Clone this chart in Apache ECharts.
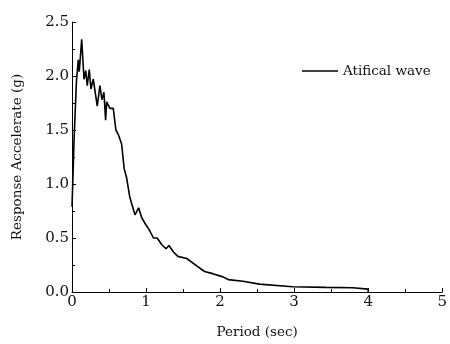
<!DOCTYPE html>
<html>
<head>
<meta charset="utf-8">
<script src="https://cdn.jsdelivr.net/npm/echarts@6/dist/echarts.min.js"></script>
<style>html,body{margin:0;padding:0;background:#fff}#c{width:450px;height:344px}</style>
</head>
<body>
<div id="c"></div>
<script>
const seriesName = 'Atifical wave';
const periods = [0, 0.03, 0.06, 0.085, 0.098, 0.131, 0.162, 0.185, 0.206, 0.233, 0.256, 0.287, 0.341, 0.377, 0.404, 0.431, 0.454, 0.468, 0.512, 0.557, 0.593, 0.624, 0.67, 0.705, 0.737, 0.78, 0.85, 0.90, 0.94, 1.0, 1.04, 1.10, 1.15, 1.21, 1.27, 1.31, 1.37, 1.43, 1.55, 1.68, 1.79, 1.90, 2.04, 2.11, 2.31, 2.53, 2.98, 3.43, 3.79, 4.0, 4.0];
const accels  = [0.79, 1.45, 1.95, 2.15, 2.04, 2.34, 1.97, 2.05, 1.91, 2.06, 1.88, 1.97, 1.72, 1.91, 1.78, 1.85, 1.59, 1.76, 1.70, 1.70, 1.50, 1.46, 1.37, 1.14, 1.06, 0.88, 0.715, 0.78, 0.69, 0.62, 0.58, 0.50, 0.50, 0.44, 0.40, 0.43, 0.37, 0.33, 0.31, 0.245, 0.19, 0.17, 0.14, 0.115, 0.10, 0.073, 0.048, 0.043, 0.04, 0.027, 0.0];
const xTicks = [0, 1, 2, 3, 4, 5];
const yTicks = [0, 0.5, 1, 1.5, 2, 2.5];

const font = 'DejaVu Serif';
const chart = echarts.init(document.getElementById('c'), null, {renderer: 'canvas'});
chart.setOption({
  animation: false,
  backgroundColor: '#fff',
  grid: {left: 72, right: 7, top: 22, bottom: 47, containLabel: false},
  legend: {
    show: true, left: 297, top: 59,
    data: [{name: seriesName, icon: 'rect'}],
    itemWidth: 36, itemHeight: 1.6, itemGap: 5,
    textStyle: {fontFamily: font, fontSize: 13.5, color: '#111'}
  },
  xAxis: {
    type: 'value', min: xTicks[0], max: xTicks[xTicks.length - 1], interval: 1,
    name: 'Period (sec)', nameLocation: 'middle', nameGap: 33,
    nameTextStyle: {fontFamily: font, fontSize: 13.5, color: '#111'},
    axisLine: {show: true, lineStyle: {color: '#000', width: 1}},
    axisTick: {show: true, inside: true, length: 4, lineStyle: {color: '#000'}},
    minorTick: {show: true, splitNumber: 2, length: 3, lineStyle: {color: '#000'}},
    axisLabel: {fontFamily: font, fontSize: 15, color: '#111', margin: 3},
    splitLine: {show: false}
  },
  yAxis: {
    type: 'value', min: yTicks[0], max: yTicks[yTicks.length - 1], interval: 0.5,
    name: 'Response Accelerate (g)', nameLocation: 'middle', nameGap: 48,
    nameTextStyle: {fontFamily: font, fontSize: 13.5, color: '#111'},
    axisLine: {show: true, lineStyle: {color: '#000', width: 1}},
    axisTick: {show: true, inside: true, length: 4, lineStyle: {color: '#000'}},
    minorTick: {show: true, splitNumber: 2, length: 3, lineStyle: {color: '#000'}},
    axisLabel: {fontFamily: font, fontSize: 15, color: '#111', margin: 3, formatter: v => v.toFixed(1)},
    splitLine: {show: false}
  },
  series: [{
    name: seriesName, type: 'line', showSymbol: false,
    data: periods.map((p, i) => [p, accels[i]]),
    lineStyle: {color: '#000', width: 1.6},
    itemStyle: {color: '#000'}
  }]
});
</script>
</body>
</html>
